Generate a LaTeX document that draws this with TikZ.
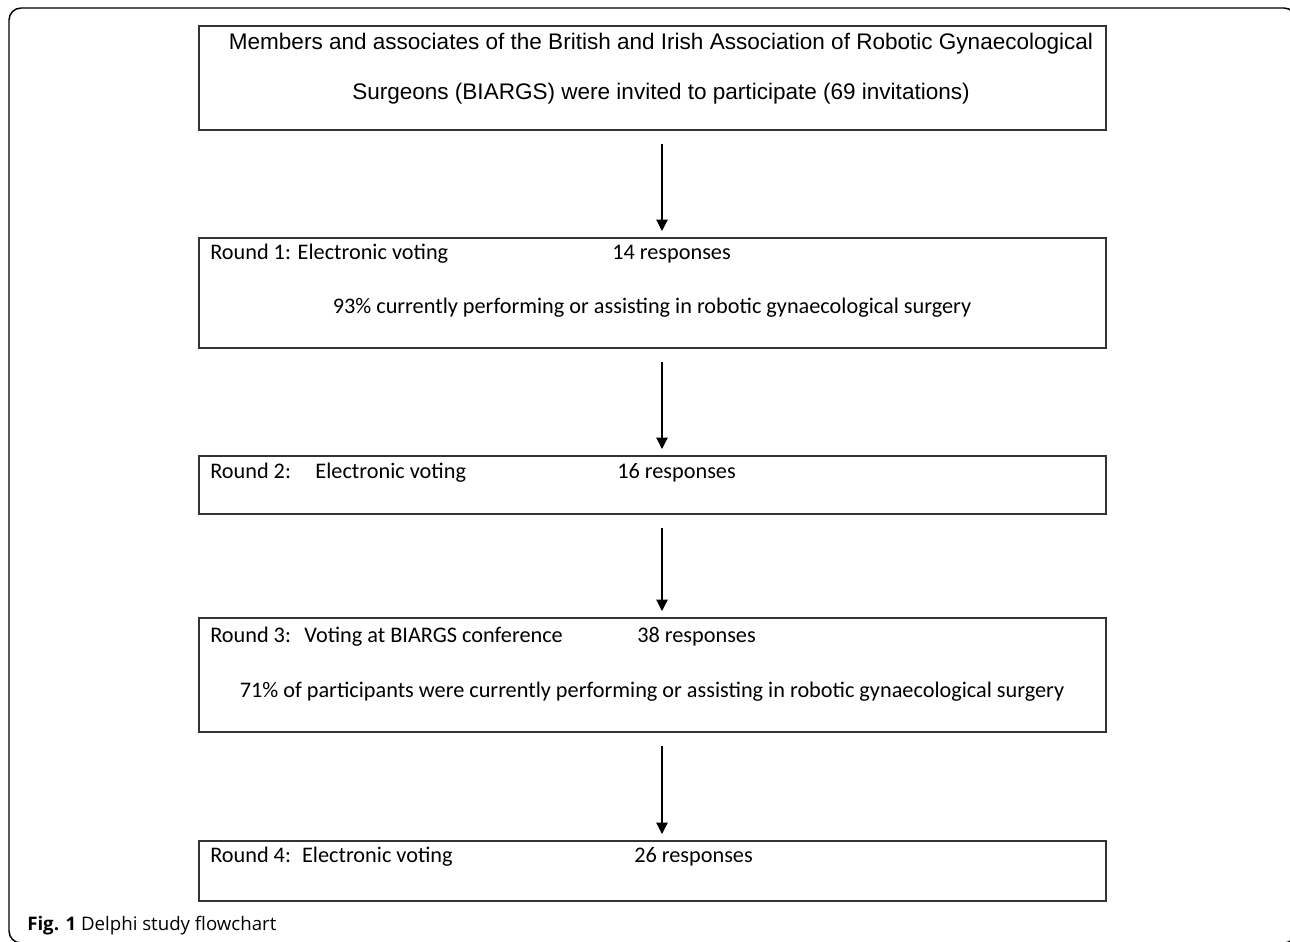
\documentclass[tikz,border=0pt]{standalone}
\usepackage{fontspec}
\setmainfont{Liberation Sans}
\newfontfamily\calfont{Carlito}
\newfontfamily\capfont{Open Sans}
\usepackage{tikz}
\usetikzlibrary{positioning,arrows.meta,calc}

\begin{document}
\begin{tikzpicture}[x=0.75pt,y=-0.75pt,
  stage/.style={draw=black!80,line width=1.4pt,minimum width=680.25pt,inner sep=0pt},
  txt/.style={inner sep=0pt,anchor=base west,font=\calfont\fontsize{16.7}{20}\selectfont},
  mid/.style={inner sep=0pt,anchor=base,font=\calfont\fontsize{16.7}{20}\selectfont},
  flow/.style={-{Triangle[width=8.5pt,length=8.5pt]},line width=0.9pt}]
  \useasboundingbox (0,0) rectangle (1290,942);
  % outer frame
  \draw[line width=1.1pt,rounded corners=9pt] (9,8) rectangle (1296,943);
  % boxes
  \node[stage,minimum height=78pt,anchor=north west] (B0) at (198,25) {};
  \node[stage,minimum height=82.5pt,anchor=north west] (B1) at (198,237) {};
  \node[stage,minimum height=43.5pt,anchor=north west] (B2) at (198,455) {};
  \node[stage,minimum height=85.5pt,anchor=north west] (B3) at (198,617) {};
  \node[stage,minimum height=45pt,anchor=north west] (B4) at (198,840) {};
  % texts
  \node[inner sep=0pt,anchor=base,font=\fontsize{16.9}{20}\selectfont] (t0a) at (661,50) {Members and associates of the British and Irish Association of Robotic Gynaecological};
  \node[inner sep=0pt,anchor=base,font=\fontsize{16.9}{20}\selectfont] (t0b) at (661,99) {Surgeons (BIARGS) were invited to participate (69 invitations)};
  \node[txt] (t1a) at (210,259) {Round 1: Electronic voting};
  \node[txt] (t1b) at (612,259) {14 responses};
  \node[mid] (t1c) at (652,313) {93\% currently performing or assisting in robotic gynaecological surgery};
  \node[txt] (t2a) at (210,478) {Round 2:\hspace{1.1em}Electronic voting};
  \node[txt] (t2b) at (617,478) {16 responses};
  \node[txt] (t3a) at (210,642) {Round 3:\hspace{0.6em}Voting at BIARGS conference};
  \node[txt] (t3b) at (637,642) {38 responses};
  \node[mid] (t3c) at (652,697) {71\% of participants were currently performing or assisting in robotic gynaecological surgery};
  \node[txt] (t4a) at (210,862) {Round 4:\hspace{0.5em}Electronic voting};
  \node[txt] (t4b) at (634,862) {26 responses};
  \node[inner sep=0pt,anchor=base west,font=\capfont\fontsize{14}{16}\selectfont] (cap) at (27,930) {\textbf{Fig. 1} Delphi study flowchart};
  % arrows
  \coordinate (ax) at (662,0);
  \draw[flow,shorten <=9.75pt,shorten >=4.5pt] (B0.south -| ax) -- (B1.north -| ax);
  \draw[flow,shorten <=9.75pt,shorten >=4.5pt] (B1.south -| ax) -- (B2.north -| ax);
  \draw[flow,shorten <=9.75pt,shorten >=4.5pt] (B2.south -| ax) -- (B3.north -| ax);
  \draw[flow,shorten <=9.75pt,shorten >=4.5pt] (B3.south -| ax) -- (B4.north -| ax);
\end{tikzpicture}
\end{document}
